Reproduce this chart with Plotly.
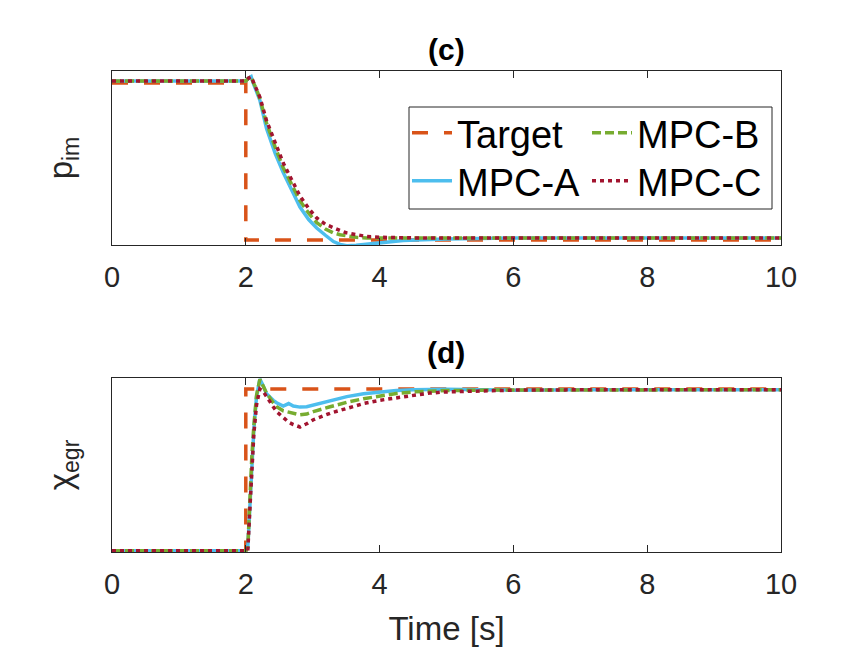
import plotly.graph_objects as go
from plotly.subplots import make_subplots

# target trajectories (normalised)
t_target = [0, 2.0, 2.0, 10.0]
p_target = [1.0, 1.0, 0.0, 0.0]
x_target = [0.0, 0.0, 1.0, 1.0]

# p_im responses
t_p = [0, 2.0, 2.04, 2.08, 2.11, 2.16, 2.21, 2.31, 2.44, 2.56, 2.69, 2.81, 2.94, 3.06, 3.19,
       3.31, 3.41, 3.51, 3.65, 3.81, 4.0, 4.16, 4.35, 4.55, 5.0, 6.0, 7.0, 8.0, 9.0, 10.0]
p_mpc_a = [1.013, 1.013, 1.03, 1.04, 1.0, 0.95, 0.89, 0.71, 0.55, 0.43, 0.31, 0.21, 0.13, 0.076, 0.03,
           -0.01, -0.028, -0.036, -0.034, -0.026, -0.018, -0.01, -0.004, 0.0, 0.007, 0.013, 0.013, 0.013, 0.013, 0.013]
p_mpc_b = [1.013, 1.013, 1.03, 1.04, 1.005, 0.96, 0.9, 0.745, 0.59, 0.46, 0.35, 0.25, 0.17, 0.11, 0.07,
           0.045, 0.033, 0.024, 0.017, 0.013, 0.012, 0.012, 0.012, 0.012, 0.012, 0.013, 0.013, 0.013, 0.013, 0.013]
p_mpc_c = [1.013, 1.013, 1.03, 1.04, 1.01, 0.965, 0.91, 0.76, 0.62, 0.49, 0.38, 0.28, 0.2, 0.14, 0.1,
           0.076, 0.06, 0.045, 0.032, 0.022, 0.017, 0.015, 0.014, 0.013, 0.013, 0.013, 0.013, 0.013, 0.013, 0.013]

# chi_egr responses
t_x = [0, 2.0, 2.03, 2.06, 2.09, 2.12, 2.16, 2.21, 2.26, 2.31, 2.41, 2.46, 2.56, 2.61, 2.64, 2.71, 2.76, 2.81,
       2.91, 2.96, 3.01, 3.26, 3.51, 3.76, 4.0, 4.25, 4.5, 4.75, 5.0, 5.5, 6.0, 7.0, 8.0, 9.0, 10.0]
x_mpc_a = [0, 0, 0.02, 0.3, 0.56, 0.75, 0.95, 1.062, 1.02, 0.97, 0.93, 0.915, 0.895, 0.905, 0.91, 0.895, 0.89, 0.888,
           0.89, 0.895, 0.9, 0.93, 0.953, 0.97, 0.982, 0.99, 0.995, 0.998, 0.998, 0.995, 0.993, 0.995, 0.995, 0.995, 0.995]
x_mpc_b = [0, 0, 0.02, 0.32, 0.58, 0.77, 0.96, 1.06, 1.02, 0.975, 0.915, 0.89, 0.865, 0.86, 0.855, 0.85, 0.845, 0.84,
           0.845, 0.855, 0.86, 0.89, 0.918, 0.94, 0.958, 0.972, 0.982, 0.988, 0.99, 0.993, 0.994, 0.995, 0.995, 0.995, 0.995]
x_mpc_c = [0, 0, 0.0, 0.25, 0.5, 0.72, 0.9, 1.0, 0.985, 0.95, 0.89, 0.86, 0.82, 0.805, 0.795, 0.78, 0.772, 0.765,
           0.785, 0.8, 0.81, 0.85, 0.882, 0.91, 0.93, 0.945, 0.96, 0.975, 0.982, 0.99, 0.993, 0.995, 0.995, 0.995, 0.995]

x_ticks = [0, 2, 4, 6, 8, 10]

COLORS = {"Target": "#D95319", "MPC-A": "#4DBEEE", "MPC-B": "#77AC30", "MPC-C": "#A2142F"}
DASHES = {"Target": "16px,16px", "MPC-A": "solid", "MPC-B": "9px,4px", "MPC-C": "4px,4px"}
LEGENDS = {"Target": "legend", "MPC-A": "legend2", "MPC-B": "legend3", "MPC-C": "legend4"}
FONT = "Liberation Sans, Arial, sans-serif"
AX_COLOR = "#262626"


def add_series(fig, name, t, y, row, show):
    trace = go.Scatter(x=t, y=y, mode="lines", name=name, showlegend=show, legend=LEGENDS[name],
                       line=dict(color=COLORS[name], width=3.5, dash=DASHES[name]))
    fig.add_trace(trace, row=row, col=1)


def main():
    fig = make_subplots(rows=2, cols=1)

    for row, show in [(1, True), (2, False)]:
        tgt = p_target if row == 1 else x_target
        add_series(fig, "Target", t_target, tgt, row, show)
        a, b, c = (p_mpc_a, p_mpc_b, p_mpc_c) if row == 1 else (x_mpc_a, x_mpc_b, x_mpc_c)
        t = t_p if row == 1 else t_x
        add_series(fig, "MPC-A", t, a, row, show)
        add_series(fig, "MPC-B", t, b, row, show)
        add_series(fig, "MPC-C", t, c, row, show)

    axis_x = dict(range=[0, 10], tickvals=x_ticks, ticks="inside", ticklen=7, tickcolor=AX_COLOR,
                  showline=True, linecolor=AX_COLOR, linewidth=1, mirror="allticks", showgrid=False,
                  zeroline=False, automargin=False, ticklabelstandoff=6,
                  tickfont=dict(size=29, color=AX_COLOR, family=FONT))
    axis_y = dict(showticklabels=False, ticks="", showline=True, linecolor=AX_COLOR, linewidth=1,
                  mirror=True, showgrid=False, zeroline=False, automargin=False)

    fig.update_layout(
        width=864, height=648, margin=dict(l=0, r=0, t=0, b=0, autoexpand=False),
        paper_bgcolor="white", plot_bgcolor="white",
        font=dict(family=FONT, color=AX_COLOR),
        xaxis=dict(axis_x, domain=[112 / 864, 781 / 864]),
        xaxis2=dict(axis_x, domain=[112 / 864, 781 / 864],
                    title=dict(text="Time [s]", font=dict(size=33, color=AX_COLOR), standoff=18)),
        yaxis=dict(axis_y, domain=[1 - 245 / 648, 1 - 71 / 648], range=[-0.032, 1.076],
                   title=dict(text="p<sub>im</sub>", font=dict(size=33, color=AX_COLOR), standoff=28)),
        yaxis2=dict(axis_y, domain=[1 - 552 / 648, 1 - 378 / 648], range=[-0.008, 1.068],
                    title=dict(text="χ<sub>egr</sub>", font=dict(size=33, color=AX_COLOR), standoff=28)),
    )

    # four one-item legends arranged in 2 columns inside a box
    pos = {"legend": (407, 133), "legend2": (407, 181), "legend3": (587, 133), "legend4": (587, 181)}
    for key, (px, py) in pos.items():
        fig.update_layout({key: dict(x=px / 864, y=1 - py / 648, xanchor="left", yanchor="middle",
                                     bgcolor="rgba(0,0,0,0)", borderwidth=0, itemwidth=40,
                                     font=dict(size=38, color="black", family=FONT))})
    fig.add_shape(type="rect", xref="paper", yref="paper", x0=409 / 864, x1=772 / 864,
                  y0=1 - 209 / 648, y1=1 - 107 / 648, line=dict(color=AX_COLOR, width=1),
                  fillcolor="white", layer="below")

    for text, py in [("(c)", 49), ("(d)", 352)]:
        fig.add_annotation(text=f"<b>{text}</b>", x=446 / 864, y=1 - py / 648, xref="paper", yref="paper",
                           xanchor="center", yanchor="middle", showarrow=False,
                           font=dict(size=30, color="black", family=FONT))

    # page margin off so the figure sits at the window origin
    fig.write_html("out.html", config={"displayModeBar": False},
                   post_script="document.body.style.margin = '0';")
    return True


if __name__ == "__main__":
    main()
